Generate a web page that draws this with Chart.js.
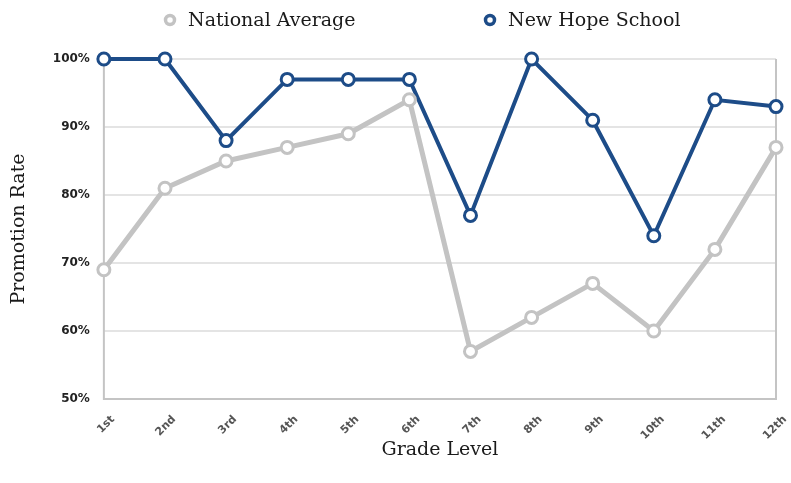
<!DOCTYPE html>
<html>
<head>
<meta charset="utf-8">
<script src="https://cdn.jsdelivr.net/npm/chart.js@4/dist/chart.umd.min.js"></script>
<style>
  html, body { margin: 0; padding: 0; background: #fff; }
  #wrap { width: 791px; height: 483px; }
</style>
</head>
<body>
<div id="wrap"><canvas id="chart"></canvas></div>
<script>
// grades along the x axis
const grades = ['1st', '2nd', '3rd', '4th', '5th', '6th', '7th', '8th', '9th', '10th', '11th', '12th']
// promotion rate, percent
const nationalAverage = [69, 81, 85, 87, 89, 94, 57, 62, 67, 60, 72, 87]
const newHopeSchool = [100, 100, 88, 97, 97, 97, 77, 100, 91, 74, 94, 93]
// y axis ticks
const yMin = 50
const yMax = 100
const yStep = 10

const serif = '"DejaVu Serif", serif'
const grey = '#c3c3c3'
const blue = '#1d4c88'

// frame around the plot area
const frame = {
  id: 'frame',
  beforeDatasetsDraw(chart) {
    const { ctx, chartArea: a } = chart
    ctx.save()
    ctx.strokeStyle = '#c4c4c4'
    ctx.lineWidth = 2
    ctx.beginPath()
    ctx.moveTo(a.left, a.top)
    ctx.lineTo(a.left, a.bottom)
    ctx.lineTo(a.right, a.bottom)
    ctx.lineTo(a.right, a.top)
    ctx.stroke()
    ctx.restore()
  }
}

// legend spread out like the original
const legendSpots = [170, 490]
const spreadLegend = {
  id: 'spreadLegend',
  afterDraw(chart) {
    const { ctx } = chart
    ctx.save()
    chart.data.datasets.forEach((ds, i) => {
      const x = legendSpots[i]
      const y = 20
      ctx.beginPath()
      ctx.arc(x, y, 4.5, 0, Math.PI * 2)
      ctx.fillStyle = '#fff'
      ctx.fill()
      ctx.lineWidth = 3.5
      ctx.strokeStyle = ds.borderColor
      ctx.stroke()
      ctx.fillStyle = '#1a1a1a'
      ctx.font = '19px ' + serif
      ctx.textBaseline = 'middle'
      ctx.textAlign = 'left'
      ctx.fillText(ds.label, x + 18, y + 1)
    })
    ctx.restore()
  }
}

new Chart(document.getElementById('chart'), {
  type: 'line',
  data: {
    labels: grades,
    datasets: [{
      label: 'National Average',
      data: nationalAverage,
      borderColor: grey,
      borderWidth: 5,
      pointRadius: 6,
      pointBorderWidth: 3,
      pointBackgroundColor: '#ffffff',
      pointBorderColor: grey,
      tension: 0,
      clip: false
    }, {
      label: 'New Hope School',
      data: newHopeSchool,
      borderColor: blue,
      borderWidth: 4,
      pointRadius: 6,
      pointBorderWidth: 3,
      pointBackgroundColor: '#ffffff',
      pointBorderColor: blue,
      tension: 0,
      clip: false
    }]
  },
  options: {
    responsive: true,
    maintainAspectRatio: false,
    animation: false,
    layout: { padding: { left: 4, right: 15, top: 59, bottom: 18 } },
    plugins: {
      legend: { display: false },
      tooltip: { enabled: false }
    },
    scales: {
      x: {
        grid: { display: false },
        border: { display: false },
        offset: false,
        // labels overlap the title band a little, as in the original
        afterFit: scale => {
          scale.height = 66
          scale.paddingRight = 0
        },
        ticks: {
          maxRotation: 45,
          minRotation: 45,
          color: '#555',
          padding: 6,
          labelOffset: 9,
          font: { family: '"DejaVu Sans", sans-serif', size: 11, weight: 'bold' }
        },
        title: {
          display: true,
          text: 'Grade Level',
          color: '#1a1a1a',
          padding: { top: 0, bottom: 4 },
          font: { family: serif, size: 19 }
        }
      },
      y: {
        min: yMin,
        max: yMax,
        grid: { color: '#e4e4e4', lineWidth: 2, drawTicks: false },
        border: { display: false },
        ticks: {
          stepSize: yStep,
          padding: 14,
          color: '#222',
          font: { family: '"DejaVu Sans", sans-serif', size: 12, weight: 'bold' },
          callback: v => v + '%'
        },
        title: {
          display: true,
          text: 'Promotion Rate',
          color: '#1a1a1a',
          padding: { bottom: 8 },
          font: { family: serif, size: 19 }
        }
      }
    }
  },
  plugins: [frame, spreadLegend]
})
</script>
</body>
</html>
